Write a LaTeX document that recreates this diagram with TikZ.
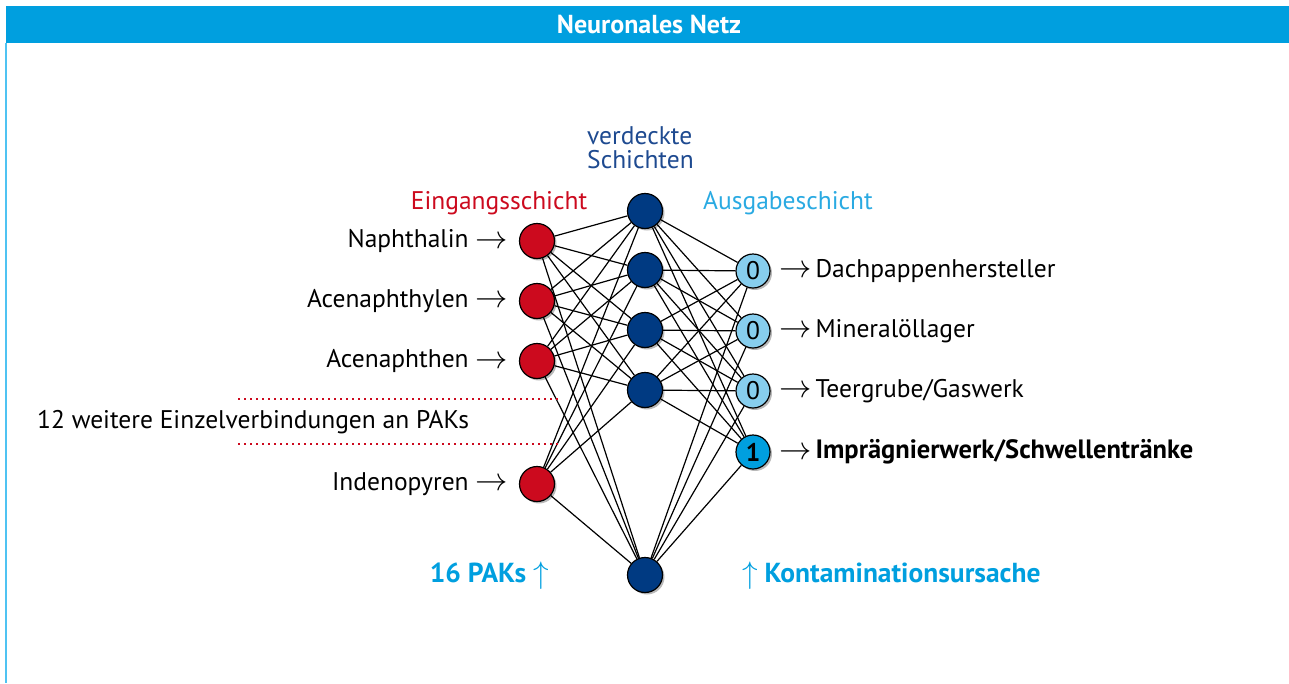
\documentclass[tikz,border=0pt]{standalone}
\usepackage{fontspec}
\setmainfont{PT Sans}
\usetikzlibrary{shadows}
\definecolor{hdrblue}{HTML}{009FDF}
\definecolor{edgeblue}{HTML}{4FC3F2}
\definecolor{inred}{HTML}{CC0A1E}
\definecolor{hidblue}{HTML}{003A82}
\definecolor{outlight}{HTML}{87CEEE}
\definecolor{labblue}{HTML}{1E4A90}
\definecolor{ausblue}{HTML}{2AAAE2}
\newcommand{\toarr}{\raisebox{-.5pt}{\scalebox{1.3}{$\rightarrow$}}}
\newcommand{\uparr}{\raisebox{-1pt}{\scalebox{1.25}{$\uparrow$}}}
\begin{document}
\begin{tikzpicture}[x=1pt,y=-1pt,
	every node/.style={font=\fontsize{25.5}{25}\selectfont},
	neuron/.style={circle,draw=black,line width=1.2pt,minimum size=35pt,inner sep=0pt,
		drop shadow={shadow xshift=2pt,shadow yshift=-2pt,opacity=.55}},
	link/.style={line width=1.2pt},
	inlab/.style={anchor=east,inner sep=0pt},
	outlab/.style={anchor=west,inner sep=0pt},
	sumlab/.style={text=hdrblue,font=\fontsize{27.5}{25}\selectfont\bfseries,inner sep=0pt}]
	\useasboundingbox (0,0) rectangle (1289,683);
	\fill[hdrblue] (6,6) rectangle (1289,43);
	\draw[edgeblue,line width=1.5pt] (6,43) -- (6,683);
	\node[text=white,font=\fontsize{26}{26}\selectfont\bfseries] (title) at (649,25) {Neuronales Netz};
	\foreach \n/\y in {1/241,2/301,3/361,4/484}
		\node[neuron,fill=inred] (i\n) at (537,\y) {};
	\foreach \n/\y in {1/211,2/270,3/330,4/390,5/575}
		\node[neuron,fill=hidblue] (h\n) at (645,\y) {};
	\foreach \n/\y/\v/\c in {1/271/0/outlight,2/331/0/outlight,3/391/0/outlight,4/452/\textbf{1}/hdrblue}
		\node[neuron,fill=\c,minimum size=34pt] (o\n) at (753,\y) {\v};
	\foreach \a in {1,...,4}
		\foreach \b in {1,...,5}
			\draw[link] (i\a) -- (h\b);
	\foreach \b in {1,...,5}
		\foreach \c in {1,...,4}
			\draw[link] (h\b) -- (o\c);
	\node[inlab] (l1) at (508,241) {Naphthalin \toarr};
	\node[inlab] (l2) at (508,301) {Acenaphthylen \toarr};
	\node[inlab] (l3) at (508,361) {Acenaphthen \toarr};
	\node[inlab] (l4) at (508,484) {Indenopyren \toarr};
	\draw[inred,line width=1.6pt,dash pattern=on 1.6pt off 4.4pt] (238,399) -- (560,399);
	\draw[inred,line width=1.6pt,dash pattern=on 1.6pt off 4.4pt] (238,444) -- (560,444);
	\node[anchor=west,inner sep=0pt] (more) at (37,422) {12 weitere Einzelverbindungen an PAKs};
	\node[text=inred,inner sep=0pt] (inhead) at (499,203) {Eingangsschicht};
	\node[text=labblue,align=left,anchor=west,inner sep=0pt,font=\fontsize{25.5}{24}\selectfont] (hidhead) at (587,148) {verdeckte\\Schichten};
	\node[text=ausblue,inner sep=0pt] (outhead) at (788,203) {Ausgabeschicht};
	\node[outlab] (r1) at (779,271) {\toarr\hspace{4pt}Dachpappenhersteller};
	\node[outlab] (r2) at (779,331) {\toarr\hspace{4pt}Mineralöllager};
	\node[outlab] (r3) at (779,391) {\toarr\hspace{4pt}Teergrube/Gaswerk};
	\node[outlab,font=\fontsize{26.5}{25}\selectfont\bfseries] (r4) at (779,452) {\toarr\hspace{4pt}Imprägnierwerk/Schwellentränke};
	\node[sumlab,anchor=east] (pak) at (549,576) {16 PAKs \uparr};
	\node[sumlab,anchor=west] (cause) at (742,576) {\uparr{} Kontaminationsursache};
\end{tikzpicture}
\end{document}
